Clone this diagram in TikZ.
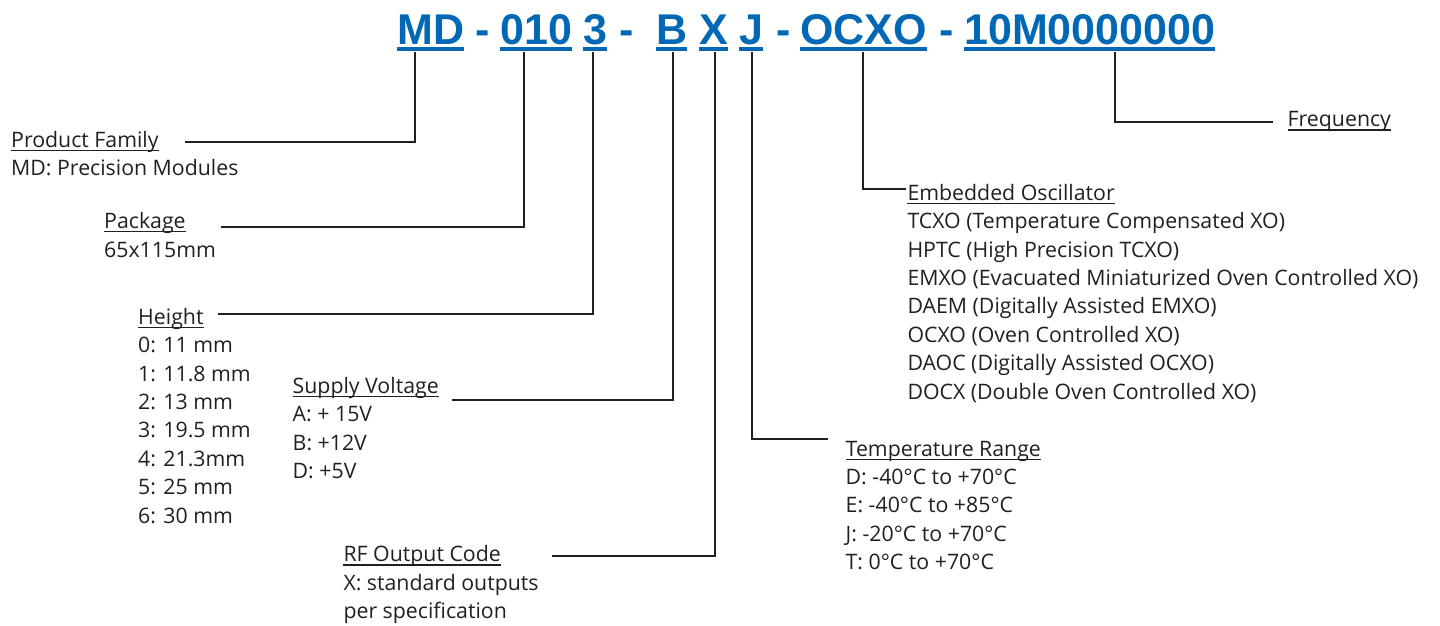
\documentclass[tikz,border=0pt]{standalone}
\usepackage{fontspec}
\setmainfont{Open Sans}
\newfontfamily\hdrfont{Liberation Sans}
\definecolor{blu}{RGB}{0,104,180}
\definecolor{ink}{RGB}{35,31,32}
\begin{document}
\begin{tikzpicture}[x=1pt,y=-1pt,
  code/.style={anchor=base west,inner sep=0,text=blu,font=\hdrfont\bfseries\fontsize{43}{43}\selectfont},
  codeul/.style={draw=blu,line width=3.5pt},
  ttl/.style={anchor=base west,inner sep=0,text=ink,font=\fontsize{21.3}{28}\selectfont},
  ul/.style={draw=ink,line width=1.1pt},
  conn/.style={draw=ink,line width=2.6pt,line join=miter}]
\useasboundingbox (0,0) rectangle (1440,626);
% header
\node[code] (md) at (397,44.5) {MD};
\node[code] (d1) at (475,44.5) {-};
\node[code] (pk) at (500,44.5) {010};
\node[code] (ht) at (583,44.5) {3};
\node[code] (d2) at (619,44.5) {-};
\node[code] (sv) at (656,44.5) {B};
\node[code] (rf) at (699,44.5) {X};
\node[code] (tr) at (739,44.5) {J};
\node[code] (d3) at (776,44.5) {-};
\node[code] (eo) at (800,44.5) {OCXO};
\node[code] (d4) at (939,44.5) {-};
\node[code] (fq) at (964,44.5) {10M0000000};
\foreach \n in {md,pk,ht,sv,rf,tr,eo,fq}
  \draw[codeul] ([yshift=-4.5pt]\n.base west) -- ([yshift=-4.5pt]\n.base east);
% titles
\node[ttl] (pf) at (11,147) {Product Family};
\node[ttl] (pa) at (104,228.5) {Package};
\node[ttl] (he) at (138,324.3) {Height};
\node[ttl] (su) at (292.5,393.3) {Supply Voltage};
\node[ttl] (ro) at (343.3,561.7) {RF Output Code};
\node[ttl] (te) at (845.5,456) {Temperature Range};
\node[ttl] (em) at (907.3,200.3) {Embedded Oscillator};
\node[ttl] (fr) at (1287.5,126.7) {Frequency};
\foreach \n in {pf,pa,he,su,ro,te,em,fr}
  \draw[ul] ([yshift=-3.3pt]\n.base west) -- ([yshift=-3.3pt]\n.base east);
% descriptions
\node[ttl] (pf1) at (11,175.5) {MD: Precision Modules};
\node[ttl] (pa1) at (104,257) {65x115mm};
\foreach \t [count=\i] in {0: 11 mm,1: 11.8 mm,2: 13 mm,3: 19.5 mm,4: 21.3mm,5: 25 mm,6: 30 mm}
  \node[ttl] (he\i) at (138,324.3+28.4*\i) {\t};
\foreach \t [count=\i] in {A: + 15V,B: +12V,D: +5V}
  \node[ttl] (su\i) at (292.5,393.3+28.4*\i) {\t};
\foreach \t [count=\i] in {X: standard outputs,per specification}
  \node[ttl] (ro\i) at (343.3,561.7+28.4*\i) {\t};
\foreach \t [count=\i] in {D: -40°C to +70°C,E: -40°C to +85°C,J: -20°C to +70°C,T: 0°C to +70°C}
  \node[ttl] (te\i) at (845.5,456+28.4*\i) {\t};
\foreach \t [count=\i] in {TCXO (Temperature Compensated XO),HPTC (High Precision TCXO),EMXO (Evacuated Miniaturized Oven Controlled XO),DAEM (Digitally Assisted EMXO),OCXO (Oven Controlled XO),DAOC (Digitally Assisted OCXO),DOCX (Double Oven Controlled XO)}
  \node[ttl] (em\i) at (907.3,200.3+28.4*\i) {\t};
% connector endpoints
\coordinate (mdT) at (415,52);  \coordinate (pfE) at (185,142);
\coordinate (pkT) at (524,52);  \coordinate (paE) at (221,227);
\coordinate (htT) at (593,52);  \coordinate (heE) at (218,314);
\coordinate (svT) at (673,52);  \coordinate (suE) at (452,400);
\coordinate (rfT) at (715,52);  \coordinate (roE) at (552,556);
\coordinate (trT) at (752,52);  \coordinate (teE) at (828,439);
\coordinate (eoT) at (863,52);  \coordinate (emE) at (906,189);
\coordinate (fqT) at (1115,52); \coordinate (frE) at (1273,122);
\draw[conn] (mdT) |- (pfE);
\draw[conn] (pkT) |- (paE);
\draw[conn] (htT) |- (heE);
\draw[conn] (svT) |- (suE);
\draw[conn] (rfT) |- (roE);
\draw[conn] (trT) |- (teE);
\draw[conn] (eoT) |- (emE);
\draw[conn] (fqT) |- (frE);
\end{tikzpicture}
\end{document}
